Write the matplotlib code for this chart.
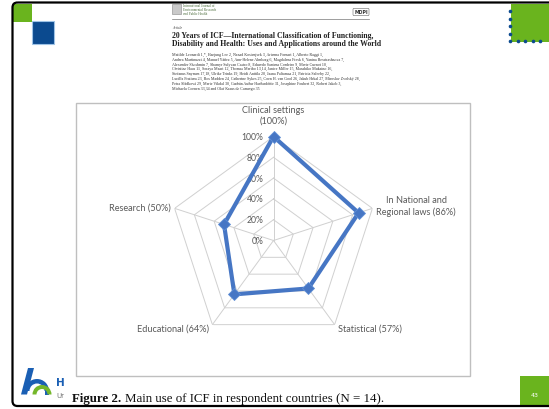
import numpy as np
import matplotlib
matplotlib.use("Agg")
import matplotlib.pyplot as plt
from matplotlib.patches import Rectangle, FancyBboxPatch, Wedge, Polygon

# ---- data ----
categories = ["Clinical settings\n(100%)", "In National and\nRegional laws (86%)",
              "Statistical (57%)", "Educational (64%)", "Research (50%)"]
values = [1.00, 0.86, 0.57, 0.64, 0.50]
ring_values = [0.0, 0.2, 0.4, 0.6, 0.8, 1.0]
ring_labels = ["0%", "20%", "40%", "60%", "80%", "100%"]

authors = [
    "Matilde Leonardi 1,*, Haejung Lee 2, Nenad Kostanjsek 3, Arianna Fornari 1, Alberto Raggi 1,",
    "Andrea Martinuzzi 4, Manuel Yáñez 5, Ann-Helene Almborg 6, Magdalena Fresk 6, Yanina Besstrashnova 7,",
    "Alexander Shoshmin 7, Shamyr Sulyvan Castro 8, Eduardo Santana Cordeiro 9, Marie Cuenot 10,",
    "Christine Haas 11, Soraya Maart 12, Thomas Maribo 13,14, Janice Miller 15, Masahiko Mukaino 16,",
    "Stefanus Snyman 17,18, Ulrike Trinks 19, Heidi Anttila 20, Jaana Paltamaa 21, Patricia Saleeby 22,",
    "Lucilla Frattura 23, Ros Madden 24, Catherine Sykes 25, Coen H. van Gool 26, Jakub Hrkal 27, Miroslav Zvolský 28,",
    "Petra Sládková 29, Marie Vikdal 30, Gudrún Auður Harðardóttir 31, Josephine Foubert 32, Robert Jakob 3,",
    "Michaela Coenen 33,34 and Olaf Kraus de Camargo 35",
]

W, H = 549, 410
GREEN = "#6ab41e"
NAVY = "#0b4a8f"
BLUE = "#4676c4"
GRAY_TXT = "#595959"

fig = plt.figure(figsize=(W / 100, H / 100), dpi=100)
fig.patch.set_facecolor("white")

# slide canvas in pixel coordinates (y grows downward)
bg = fig.add_axes([0, 0, 1, 1])
bg.set_xlim(0, W)
bg.set_ylim(H, 0)
bg.axis("off")

# slide decorations
bg.add_patch(Rectangle((13, 5), 19, 18, color=GREEN, lw=0))
bg.add_patch(Rectangle((32, 22), 22, 23, facecolor=NAVY, edgecolor="#9ec3e6", lw=0.8))
bg.add_patch(Rectangle((511, 5), 40, 38, color=GREEN, lw=0))
for yy in [12, 19.5, 27, 34.5, 42]:
    bg.plot(510, yy, "o", color=NAVY, ms=2.6, mec="none")
for xx in [517.5, 525, 532.5, 540]:
    bg.plot(xx, 42, "o", color=NAVY, ms=2.6, mec="none")
bg.add_patch(Rectangle((520, 377), 31, 28.5, color=GREEN, lw=0))
bg.text(535, 396, "43", color="white", fontsize=4.5, ha="center", va="center",
        family="DejaVu Sans")

# bottom-left logo
LOGO_BLUE = "#1a5fb4"
bg.add_patch(Polygon([[28, 369], [34, 369], [27, 395.5], [21, 395.5]], closed=True, color=LOGO_BLUE, lw=0))
bg.add_patch(Wedge((37, 392), 12, 180, 360, width=4.5, color=LOGO_BLUE, lw=0))
bg.add_patch(Rectangle((44.5, 391.5), 4.5, 4, color=LOGO_BLUE, lw=0))
bg.add_patch(Wedge((42, 395.5), 9.5, 180, 360, width=4, color="#74b72a", lw=0))
bg.text(56, 383, "H", color=LOGO_BLUE, fontsize=7.5, fontweight="bold", ha="left", va="center",
        family="DejaVu Sans")
bg.text(56, 396, "Ur", color="#777777", fontsize=5, ha="left", va="center", family="DejaVu Sans")

# article page (white) over the slide
bg.add_patch(Rectangle((66, 46), 330, 362, color="white", lw=0))

# paper header
bg.add_patch(Rectangle((172, 5), 9, 10, facecolor="#c9c9c9", edgecolor="#888888", lw=0.4))
bg.text(183, 10, "International Journal of\nEnvironmental Research\nand Public Health", fontsize=2.4,
        color="#4a6b3a", ha="left", va="center", family="Liberation Serif", linespacing=1.0)
bg.text(361, 13, "MDPI", fontsize=3.4, color="#333333", ha="center", va="center",
        family="DejaVu Sans", fontweight="bold",
        bbox=dict(boxstyle="round,pad=0.25", fc="white", ec="#666666", lw=0.4))
bg.plot([172, 369], [20, 20], color="#777777", lw=0.5)
bg.text(172, 28, "Article", fontsize=2.7, style="italic", color="#333333", ha="left", va="center",
        family="Liberation Serif")
bg.text(172, 35.5, "20 Years of ICF\u2014International Classification of Functioning,",
        fontsize=5.6, fontweight="bold", color="#222222", ha="left", va="center", family="Liberation Serif")
bg.text(172, 43.5, "Disability and Health: Uses and Applications around the World",
        fontsize=5.6, fontweight="bold", color="#222222", ha="left", va="center", family="Liberation Serif")
for i, line in enumerate(authors):
    bg.text(172, 55 + i * 4.8, line, fontsize=2.9, color="#333333", ha="left", va="center",
            family="Liberation Serif")

# caption
bg.text(72, 399.5, "Figure 2.", fontsize=9.3, fontweight="bold", color="#111111", ha="left", va="center",
        family="Liberation Serif")
bg.text(125, 399.5, "Main use of ICF in respondent countries (N = 14).", fontsize=9.3, color="#111111",
        ha="left", va="center", family="Liberation Serif")

# chart frame
bg.add_patch(Rectangle((76, 103.5), 394, 273.5, facecolor="white", edgecolor="#bfbfbf", lw=1.0))

# slide border
bg.add_patch(FancyBboxPatch((12.5, 3.5), 560, 403.5, boxstyle="round,pad=0,rounding_size=5",
                            facecolor="none", edgecolor="black", lw=1.6))

# ---- radar chart ----
cx, cy, R = 273.5, 241.5, 104
ax = fig.add_axes([(cx - R) / W, (H - cy - R) / H, 2 * R / W, 2 * R / H], projection="polar")
ax.set_theta_zero_location("N")
ax.set_theta_direction(-1)
ax.set_ylim(0, 1.0)
ax.set_facecolor("none")
ax.grid(False)
ax.spines["polar"].set_visible(False)
ax.set_xticks([])
ax.set_yticks([])

n = len(categories)
theta = np.linspace(0, 2 * np.pi, n, endpoint=False)
theta_c = np.append(theta, theta[0])

# pentagon rings and spokes
for rv in ring_values[1:]:
    ax.plot(theta_c, [rv] * (n + 1), color="#d0d0d0", lw=0.7, zorder=1)
for t in theta:
    ax.plot([t, t], [0, 1.0], color="#d0d0d0", lw=0.7, zorder=1)

# ring labels along the top spoke
for rv, lab in zip(ring_values, ring_labels):
    ax.annotate(lab, xy=(0, rv), xytext=(-10, 0), textcoords="offset pixels",
                ha="right", va="center", fontsize=6.2, color=GRAY_TXT, family="Lato",
                annotation_clip=False, zorder=2)

# data series
vals_c = values + values[:1]
ax.plot(theta_c, vals_c, color=BLUE, lw=3.0, solid_joinstyle="miter", zorder=3, clip_on=False)
ax.plot(theta, values, "D", color=BLUE, ms=6.6, mec="#5f8fd6", mew=0.6, zorder=4, clip_on=False)

# category labels
label_pos = [
    (0, (0, 12), "center", "bottom"),
    (1, (4, 3), "left", "center"),
    (2, (3, -3), "left", "center"),
    (3, (-3, -3), "right", "center"),
    (4, (-4, 1), "right", "center"),
]
for i, off, ha, va in label_pos:
    ax.annotate(categories[i], xy=(theta[i], 1.0), xytext=off, textcoords="offset pixels",
                ha=ha, va=va, multialignment="center", fontsize=6.6, color=GRAY_TXT,
                family="Lato", annotation_clip=False, linespacing=1.25)

fig.savefig("out.png", dpi=100, facecolor="white")
